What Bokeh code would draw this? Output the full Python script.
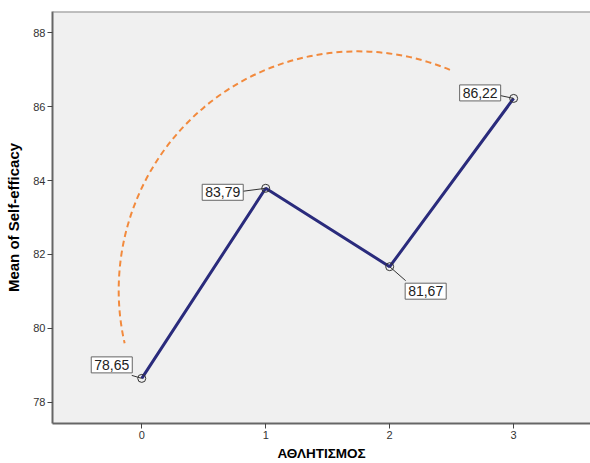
from bokeh.plotting import figure
from bokeh.models import Range1d, FixedTicker, Label, Span
from bokeh.embed import file_html
from bokeh.resources import INLINE
import numpy as np

# ---- data ----
categories = [0, 1, 2, 3]
means = [78.65, 83.79, 81.67, 86.22]
value_labels = ["78,65", "83,79", "81,67", "86,22"]
y_ticks = [78, 80, 82, 84, 86, 88]
x_ticks = [0, 1, 2, 3]
x_title = "ΑΘΛΗΤΙΣΜΟΣ"
y_title = "Mean of Self-efficacy"

# ---- layout / style ----
W, H = 590, 463
BL, BT, BR, BB = 52, 11, 0, 40
x0, x1 = -0.72, 3.62
y0, y1 = 77.43, 88.57
FONT = "Liberation Sans"

# label box offsets (screen px, up positive) and leader end offsets
label_off = [(-30, 13.5), (-43, -4), (36, -24.5), (-33.5, 5.5)]
leader_off = [(-10, 3), (-23, -3), (16, -14), (-14, 3)]

p = figure(width=W, height=H, output_backend="svg", toolbar_location=None,
           x_range=Range1d(x0, x1), y_range=Range1d(y0, y1),
           min_border_left=BL, min_border_top=BT, min_border_right=BR,
           min_border_bottom=BB)
p.background_fill_color = "#f0f0f0"
p.border_fill_color = "white"
p.outline_line_color = None
p.grid.visible = False

fw = W - BL - BR
fh = H - BT - BB
sx = fw / (x1 - x0)
sy = fh / (y1 - y0)

# axes
for ax in (p.xaxis[0], p.yaxis[0]):
    ax.major_label_text_font = FONT
    ax.major_label_text_font_size = "11px"
    ax.major_label_text_color = "#333333"
    ax.axis_label_text_font = FONT
    ax.axis_label_text_font_style = "bold"
    ax.axis_label_text_color = "#000000"
    ax.minor_tick_line_color = None
    ax.major_tick_in = 0
    ax.major_tick_out = 5
    ax.major_tick_line_color = "#444444"
    ax.axis_line_color = "#666666"
    ax.axis_line_width = 2
p.xaxis.ticker = FixedTicker(ticks=x_ticks)
p.yaxis.ticker = FixedTicker(ticks=y_ticks)
p.xaxis.axis_label = x_title
p.yaxis.axis_label = y_title
p.xaxis.axis_label_text_font_size = "13.5px"
p.yaxis.axis_label_text_font_size = "15px"
p.xaxis.major_label_standoff = 2
p.yaxis.major_label_standoff = 2
p.xaxis.axis_label_standoff = 4
p.yaxis.axis_label_standoff = 8

# top border
p.add_layout(Span(location=y1, dimension="width", line_color="#888888", line_width=2))

# decorative dashed arc
arc_cx, arc_cy = 1.742, 81.03
p.arc(x=[arc_cx], y=[arc_cy], radius=239, radius_units="screen",
      start_angle=np.deg2rad(67.3), end_angle=np.deg2rad(192.8),
      direction="anticlock", line_color="#f28a3d", line_width=2,
      line_dash="6 4")

# main line
p.line(categories, means, line_color="#2a2b7c", line_width=3)

# leader lines
lx0, ly0, lx1, ly1 = [], [], [], []
for c, m, (dx, dy) in zip(categories, means, leader_off):
    lx0.append(c); ly0.append(m)
    lx1.append(c + dx / sx); ly1.append(m + dy / sy)
p.segment(lx0, ly0, lx1, ly1, line_color="#333333", line_width=1)

# markers
p.scatter(categories, means, size=8, marker="circle", fill_color="#f0f0f0",
          fill_alpha=0.0, line_color="#333333", line_width=1)

# value labels
for c, m, t, (ox, oy) in zip(categories, means, value_labels, label_off):
    p.add_layout(Label(x=c, y=m, x_offset=ox, y_offset=oy, text=t,
                       text_font=FONT, text_font_size="14px",
                       text_color="#222222", text_align="center",
                       text_baseline="middle",
                       background_fill_color="white",
                       border_line_color="#666666", border_line_width=1,
                       padding=3))

open("out.html", "w").write(file_html(p, INLINE))
